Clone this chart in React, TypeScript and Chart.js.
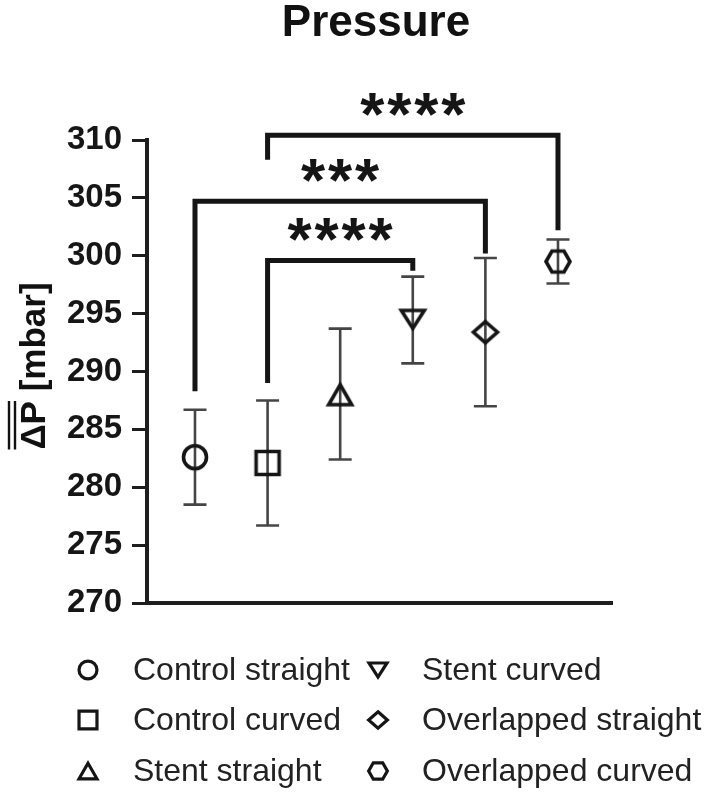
import React, { useEffect, useRef } from 'react';
import { Chart, registerables } from 'chart.js';

Chart.register(...registerables);

const TITLE = 'Pressure';
const Y_SYMBOL = 'ΔP';
const Y_UNIT = ' [mbar]';

const groups = [
  'Control straight',
  'Control curved',
  'Stent straight',
  'Stent curved',
  'Overlapped straight',
  'Overlapped curved',
];
const groupX = [1, 2, 3, 4, 5, 6];
const shapes = ['circle', 'square', 'triangle', 'triangleDown', 'diamond', 'hexagon'];
const means = [282.6, 282.1, 288.0, 294.5, 293.4, 299.5];
const errLow = [278.5, 276.7, 282.4, 290.7, 287.0, 297.6];
const errHigh = [286.7, 287.5, 293.7, 298.2, 299.8, 301.4];

const yMin = 270;
const yMax = 310;
const yStep = 5;

const bracketFrom = [2, 1, 2];
const bracketTo = [6, 5, 4];
const bracketTop = [310.4, 304.7, 299.6];
const bracketFootLeft = [308.3, 288.3, 289.0];
const bracketFootRight = [302.2, 300.2, 298.7];
const bracketStars = ['****', '***', '****'];

const FONT = 'Arial, "Liberation Sans", Helvetica, sans-serif';
const INK = '#151515';

function shapePath(ctx: CanvasRenderingContext2D, shape: string, c: number, k: number) {
  ctx.beginPath();
  if (shape === 'circle') {
    ctx.arc(c, c, 11.5 * k, 0, Math.PI * 2);
  } else if (shape === 'square') {
    ctx.rect(c - 11.5 * k, c - 11.5 * k, 23 * k, 23 * k);
  } else if (shape === 'triangle') {
    const w = 11.5 * k, h = 20 * k;
    ctx.moveTo(c, c - h / 2);
    ctx.lineTo(c + w, c + h / 2);
    ctx.lineTo(c - w, c + h / 2);
    ctx.closePath();
  } else if (shape === 'triangleDown') {
    const w = 11.5 * k, h = 18 * k;
    ctx.moveTo(c - w, c - h / 2);
    ctx.lineTo(c + w, c - h / 2);
    ctx.lineTo(c, c + h / 2);
    ctx.closePath();
  } else if (shape === 'diamond') {
    ctx.moveTo(c, c - 10.5 * k);
    ctx.lineTo(c + 12 * k, c);
    ctx.lineTo(c, c + 10.5 * k);
    ctx.lineTo(c - 12 * k, c);
    ctx.closePath();
  } else {
    ctx.moveTo(c - 12 * k, c);
    ctx.lineTo(c - 6 * k, c - 10.5 * k);
    ctx.lineTo(c + 6 * k, c - 10.5 * k);
    ctx.lineTo(c + 12 * k, c);
    ctx.lineTo(c + 6 * k, c + 10.5 * k);
    ctx.lineTo(c - 6 * k, c + 10.5 * k);
    ctx.closePath();
  }
}

function makeMarker(shape: string, k: number, lw: number): HTMLCanvasElement {
  const size = 36;
  const cv = document.createElement('canvas');
  cv.width = size;
  cv.height = size;
  const ctx = cv.getContext('2d')!;
  ctx.strokeStyle = INK;
  ctx.lineWidth = lw;
  ctx.lineJoin = 'miter';
  shapePath(ctx, shape, size / 2, k);
  ctx.stroke();
  return cv;
}

export default function App() {
  const ref = useRef<HTMLCanvasElement | null>(null);

  useEffect(() => {
    const canvas = ref.current;
    if (!canvas) return;
    const markers = shapes.map((s) => makeMarker(s, 1, 3.6));
    const legendMarkers = shapes.map((s) => makeMarker(s, 0.78, 3.2));

    const plugin = {
      id: 'pressureDecor',
      beforeDatasetsDraw(chart: any) {
        const ctx = chart.ctx;
        const xs = chart.scales.x;
        const ys = chart.scales.y;
        ctx.save();
        ctx.strokeStyle = '#454545';
        ctx.lineWidth = 2.6;
        for (let i = 0; i < groups.length; i++) {
          const x = xs.getPixelForValue(groupX[i]);
          const y1 = ys.getPixelForValue(errLow[i]);
          const y2 = ys.getPixelForValue(errHigh[i]);
          ctx.beginPath();
          ctx.moveTo(x, y1);
          ctx.lineTo(x, y2);
          ctx.moveTo(x - 11.5, y1);
          ctx.lineTo(x + 11.5, y1);
          ctx.moveTo(x - 11.5, y2);
          ctx.lineTo(x + 11.5, y2);
          ctx.stroke();
        }
        ctx.restore();
      },
      afterDraw(chart: any) {
        const ctx = chart.ctx;
        const xs = chart.scales.x;
        const ys = chart.scales.y;
        ctx.save();

        // significance brackets
        ctx.strokeStyle = INK;
        ctx.fillStyle = INK;
        ctx.lineWidth = 5;
        ctx.lineJoin = 'miter';
        ctx.lineCap = 'butt';
        ctx.font = `bold 62px ${FONT}`;
        const m = ctx.measureText('*');
        const starShift = (m.actualBoundingBoxAscent - m.actualBoundingBoxDescent) / 2;
        ctx.textAlign = 'center';
        ctx.textBaseline = 'alphabetic';
        for (let b = 0; b < bracketFrom.length; b++) {
          const xl = xs.getPixelForValue(groupX[bracketFrom[b] - 1]);
          const xr = xs.getPixelForValue(groupX[bracketTo[b] - 1]);
          const yt = ys.getPixelForValue(bracketTop[b]);
          const yl = ys.getPixelForValue(bracketFootLeft[b]);
          const yr = ys.getPixelForValue(bracketFootRight[b]);
          ctx.beginPath();
          ctx.moveTo(xl, yl);
          ctx.lineTo(xl, yt);
          ctx.lineTo(xr, yt);
          ctx.lineTo(xr, yr);
          ctx.stroke();
          const label = bracketStars[b];
          const cx = (xl + xr) / 2;
          const cy = yt - 31;
          const gap = 27;
          for (let k = 0; k < label.length; k++) {
            const sx = cx + (k - (label.length - 1) / 2) * gap;
            ctx.fillText(label[k], sx, cy + starShift);
          }
        }

        // title
        ctx.fillStyle = '#111';
        ctx.font = `bold 44px ${FONT}`;
        ctx.textAlign = 'center';
        ctx.textBaseline = 'alphabetic';
        ctx.fillText(TITLE, 376, 36);

        // y axis label with double overline on the symbol
        ctx.save();
        ctx.font = `bold 35px ${FONT}`;
        const full = Y_SYMBOL + Y_UNIT;
        const total = ctx.measureText(full).width;
        const symW = ctx.measureText(Y_SYMBOL).width;
        ctx.translate(45, 366);
        ctx.rotate(-Math.PI / 2);
        ctx.textAlign = 'left';
        ctx.fillText(full, -total / 2, 0);
        ctx.strokeStyle = '#111';
        ctx.lineWidth = 2.4;
        ctx.beginPath();
        ctx.moveTo(-total / 2, -30);
        ctx.lineTo(-total / 2 + symW, -30);
        ctx.moveTo(-total / 2, -36);
        ctx.lineTo(-total / 2 + symW, -36);
        ctx.stroke();
        ctx.restore();

        // legend (two columns)
        ctx.font = `32px ${FONT}`;
        ctx.fillStyle = '#222';
        ctx.textAlign = 'left';
        ctx.textBaseline = 'middle';
        const colMarkerX = [88, 378];
        const colTextX = [133, 422];
        const rowY = [670, 720, 771];
        for (let i = 0; i < groups.length; i++) {
          const col = Math.floor(i / 3);
          const row = i % 3;
          const mk = legendMarkers[i];
          ctx.drawImage(mk, colMarkerX[col] - mk.width / 2, rowY[row] - mk.height / 2);
          ctx.fillText(groups[i], colTextX[col], rowY[row] + 1);
        }
        ctx.restore();
      },
    };

    const chart = new Chart(canvas, {
      type: 'scatter',
      data: {
        datasets: groups.map((g, i) => ({
          label: g,
          data: [{ x: groupX[i], y: means[i] }],
          pointStyle: markers[i] as any,
          pointRadius: 12,
          pointHoverRadius: 12,
          backgroundColor: 'rgba(0,0,0,0)',
          borderColor: INK,
        })),
      },
      options: {
        animation: false,
        responsive: true,
        maintainAspectRatio: false,
        events: [],
        layout: { padding: { left: 58, top: 140, right: 95, bottom: 195 } },
        plugins: {
          legend: { display: false },
          title: { display: false },
          tooltip: { enabled: false },
        },
        scales: {
          x: {
            type: 'linear',
            min: 0.339,
            max: 6.744,
            ticks: { display: false },
            grid: { display: false, drawTicks: false },
            border: { display: true, width: 4, color: '#1e1e1e' },
            afterFit: (s: any) => { s.height = 0; },
          },
          y: {
            type: 'linear',
            min: yMin,
            max: yMax,
            ticks: {
              stepSize: yStep,
              padding: 10,
              color: '#161616',
              font: { family: FONT, size: 33, weight: 'bold' },
            },
            grid: {
              drawOnChartArea: false,
              drawTicks: true,
              tickLength: 15,
              tickWidth: 3,
              tickColor: '#1e1e1e',
            },
            border: { display: true, width: 4, color: '#1e1e1e' },
            afterFit: (s: any) => { s.width = 89; },
          },
        },
      },
      plugins: [plugin],
    });

    return () => chart.destroy();
  }, []);

  return (
    <div style={{ position: 'fixed', left: 0, top: 0, width: 707, height: 798, background: '#fff' }}>
      <canvas ref={ref} />
    </div>
  );
}
